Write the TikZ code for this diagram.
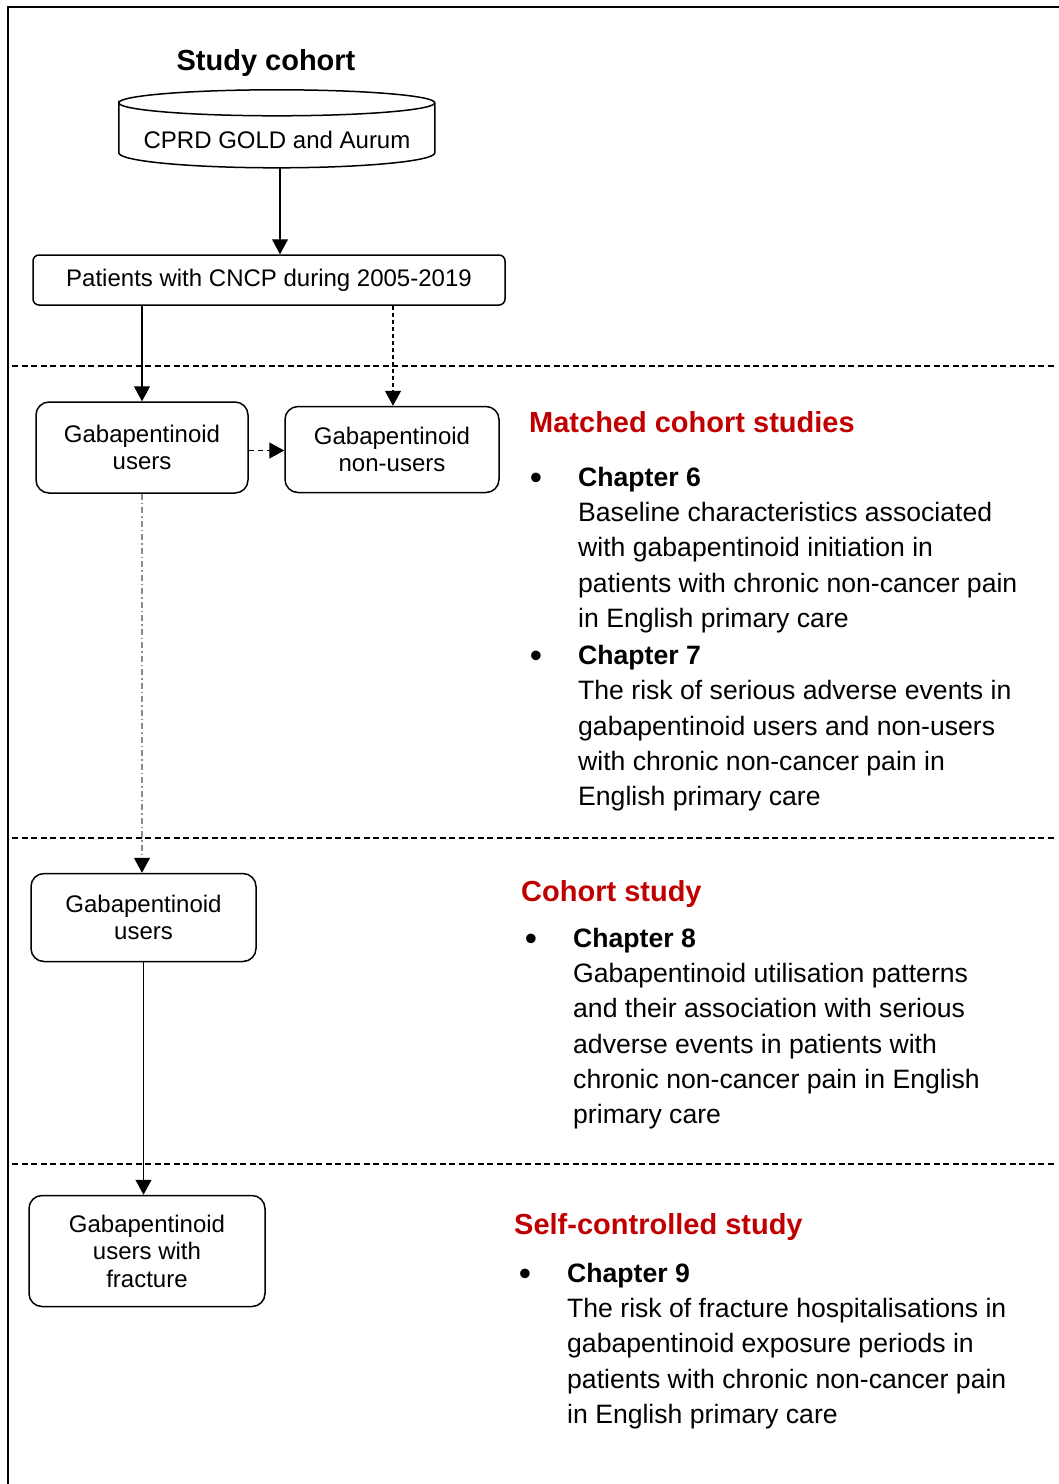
\documentclass[tikz,border=0pt]{standalone}
\usepackage{fontspec}
\setmainfont{Liberation Sans}
\usetikzlibrary{arrows.meta}
\definecolor{headred}{RGB}{192,0,0}
\begin{document}
\begin{tikzpicture}[x=1pt,y=-1pt,
  box/.style={draw, line width=1.5pt, rounded corners=13pt, align=center,
    font=\fontsize{24}{27.5}\selectfont, inner sep=0pt},
  arr/.style={line width=1.2pt, -{Triangle[length=15pt,width=16pt,color=black]}},
  sepline/.style={line width=1.2pt, dash pattern=on 6pt off 3.5pt},
  heading/.style={font=\bfseries\fontsize{29}{33}\selectfont, text=headred,
    anchor=base west, inner sep=0pt},
  bodytext/.style={font=\fontsize{26.6}{35.3}\selectfont, align=left,
    anchor=north west, inner sep=0pt},
  chap/.style={font=\bfseries\fontsize{26.6}{35.3}\selectfont,
    anchor=base west, inner sep=0pt},
  bul/.style={font=\fontsize{35}{40}\selectfont, anchor=base, inner sep=0pt}
]
\useasboundingbox (0,0) rectangle (1059,1484);

% frame (top and left edges)
\draw[line width=2pt] (1059,7) -- (8,7) -- (8,1484);

% section separators
\draw[sepline] (12,366) -- (1055,366);
\draw[sepline] (12,838) -- (1055,838);
\draw[sepline] (12,1164) -- (1055,1164);

% data source
\node[font=\bfseries\fontsize{29}{33}\selectfont, inner sep=0pt] (title) at (266,62.5) {Study cohort};
\node[minimum width=316pt, minimum height=78pt, inner sep=0pt] (db) at (277,129) {};
\draw[line width=1.5pt] (db.north west) ++(0,13)
  arc[start angle=180, end angle=-180, x radius=158pt, y radius=13pt]
  -- ++(0,50) arc[start angle=180, end angle=360, x radius=158pt, y radius=15pt]
  -- ++(0,-50);
\node[font=\fontsize{24}{27.5}\selectfont, inner sep=0pt] (dbtext) at (277,140) {CPRD GOLD and Aurum};

% flow boxes
\node[box, rounded corners=6pt, minimum width=472pt, minimum height=50pt] (pat) at (269,280)
  {Patients with CNCP during 2005-2019};
\node[box, minimum width=212pt, minimum height=91pt] (gu1) at (142,447.5)
  {Gabapentinoid\\users};
\node[box, minimum width=214pt, minimum height=86pt] (gnu) at (392,449.5)
  {Gabapentinoid\\non-users};
\node[box, minimum width=225pt, minimum height=88pt] (gu2) at (143.5,917.5)
  {Gabapentinoid\\users};
\node[box, minimum width=236pt, minimum height=111pt] (guf) at (147,1251)
  {Gabapentinoid\\users with\\fracture};

% connectors
\draw[arr] ([xshift=3pt]db.south) -- ([xshift=3pt]db.south |- pat.north);
\draw[arr] (gu1.north |- pat.south) -- (gu1.north);
\draw[arr, dash pattern=on 4pt off 3pt] ([xshift=1pt]gnu.north |- pat.south) -- ([xshift=1pt]gnu.north);
\draw[arr, dash pattern=on 5pt off 4pt] ([yshift=-3pt]gu1.east) -- ([yshift=-3pt]gnu.west |- gu1.east);
\draw[arr, black!45, dash pattern=on 6pt off 3pt on 1.5pt off 3pt] (gu1.south) -- (gu1.south |- gu2.north);
\draw[arr] (gu2.south) -- (gu2.south |- guf.north);

% matched cohort studies
\node[heading] (h1) at (529,432) {Matched cohort studies};
\node[bul] (b6) at (536,489.5) {\textbullet};
\node[chap] (c6) at (578,486) {Chapter 6};
\node[bodytext] (t6) at (578,502) {Baseline characteristics associated\\with gabapentinoid initiation in\\patients with chronic non-cancer pain\\in English primary care};
\node[bul] (b7) at (536,667.5) {\textbullet};
\node[chap] (c7) at (578,664) {Chapter 7};
\node[bodytext] (t7) at (578,680.5) {The risk of serious adverse events in\\gabapentinoid users and non-users\\with chronic non-cancer pain in\\English primary care};

% cohort study
\node[heading] (h2) at (521,901) {Cohort study};
\node[bul] (b8) at (531,950.5) {\textbullet};
\node[chap] (c8) at (573,947) {Chapter 8};
\node[bodytext] (t8) at (573,963) {Gabapentinoid utilisation patterns\\and their association with serious\\adverse events in patients with\\chronic non-cancer pain in English\\primary care};

% self-controlled study
\node[heading] (h3) at (514,1234) {Self-controlled study};
\node[bul] (b9) at (525,1285.5) {\textbullet};
\node[chap] (c9) at (567,1282) {Chapter 9};
\node[bodytext] (t9) at (567,1298) {The risk of fracture hospitalisations in\\gabapentinoid exposure periods in\\patients with chronic non-cancer pain\\in English primary care};
\end{tikzpicture}
\end{document}
